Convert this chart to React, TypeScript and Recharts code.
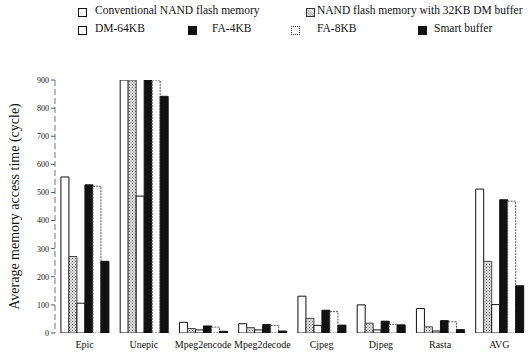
import { BarChart, Bar, XAxis, YAxis, Legend } from "recharts";

const categories = ["Epic", "Unepic", "Mpeg2encode", "Mpeg2decode", "Cjpeg", "Djpeg", "Rasta", "AVG"];
const conventional = [555, 900, 38, 33, 131, 100, 87, 512];
const dm32 = [272, 900, 16, 19, 52, 35, 22, 255];
const dm64 = [106, 487, 11, 11, 27, 11, 7, 101];
const fa4 = [527, 900, 25, 30, 81, 42, 44, 474];
const fa8 = [522, 900, 21, 27, 76, 31, 40, 469];
const smart = [255, 842, 6, 7, 28, 29, 12, 168];
const yTicks = [0, 100, 200, 300, 400, 500, 600, 700, 800, 900];

const data = categories.map((name, i) => ({
  name,
  conventional: conventional[i],
  dm32: dm32[i],
  dm64: dm64[i],
  fa4: fa4[i],
  fa8: fa8[i],
  smart: smart[i],
}));

const FONT = "'Liberation Serif', 'DejaVu Serif', serif";

function Swatch({ kind }: { kind: string }) {
  const base: React.CSSProperties = {
    position: "absolute",
    width: 9,
    height: 9,
    boxSizing: "border-box",
  };
  if (kind === "white") return <div style={{ ...base, border: "1.2px solid #111", background: "#fff" }} />;
  if (kind === "black") return <div style={{ ...base, background: "#111" }} />;
  if (kind === "dotted")
    return <div style={{ ...base, border: "1.2px dotted #333", background: "#fff" }} />;
  return (
    <div
      style={{
        ...base,
        border: "1px solid #333",
        background: "repeating-linear-gradient(45deg,#bbb 0 1px,#fff 1px 2px)",
      }}
    />
  );
}

const legendItems = [
  { kind: "white", label: "Conventional NAND flash memory", x: 78, y: 8, tx: 95 },
  { kind: "hatch", label: "NAND flash memory with 32KB DM buffer", x: 306, y: 8, tx: 317 },
  { kind: "white", label: "DM-64KB", x: 78, y: 26, tx: 95 },
  { kind: "black", label: "FA-4KB", x: 188, y: 26, tx: 212 },
  { kind: "dotted", label: "FA-8KB", x: 291, y: 26, tx: 317 },
  { kind: "black", label: "Smart buffer", x: 418, y: 26, tx: 434 },
];

function LegendBox() {
  return (
    <div style={{ position: "relative", width: 529, height: 40, fontFamily: FONT, fontSize: 11.5, color: "#111" }}>
      {legendItems.map((it) => (
        <div key={it.label}>
          <div style={{ position: "absolute", left: it.x, top: it.y }}>
            <Swatch kind={it.kind} />
          </div>
          <div style={{ position: "absolute", left: it.tx, top: it.y - 4, whiteSpace: "nowrap" }}>{it.label}</div>
        </div>
      ))}
    </div>
  );
}

export default function App() {
  return (
    <div style={{ position: "absolute", left: 0, top: 0, background: "#fff" }}>
      <BarChart
        width={529}
        height={356}
        data={data}
        margin={{ top: 40, right: 0, bottom: 0, left: 0 }}
        barCategoryGap="10%"
        barGap={0}
      >
        <defs>
          <pattern id="stipple" width="3" height="3" patternUnits="userSpaceOnUse">
            <rect width="3" height="3" fill="#e6e6e6" />
            <rect x="0" y="0" width="1" height="1" fill="#555" />
            <rect x="1.5" y="1.5" width="1" height="1" fill="#777" />
          </pattern>
        </defs>
        <XAxis
          dataKey="name"
          axisLine={false}
          tickLine={false}
          height={23}
          tick={{ fontFamily: FONT, fontSize: 10, fill: "#111" }}
          interval={0}
        />
        <YAxis
          domain={[0, 900]}
          ticks={yTicks}
          allowDataOverflow
          width={55}
          axisLine={{ stroke: "#777", strokeDasharray: "6 3" }}
          tickLine={{ stroke: "#555" }}
          tickSize={4}
          tick={{ fontFamily: FONT, fontSize: 8, fill: "#111" }}
          label={{
            value: "Average memory access time (cycle)",
            angle: -90,
            position: "insideLeft",
            offset: 14,
            style: { fontFamily: FONT, fontSize: 14, fill: "#111", textAnchor: "middle" },
          }}
        />
        <Legend verticalAlign="top" wrapperStyle={{ top: 0, left: 0 }} content={() => <LegendBox />} />
        <Bar dataKey="conventional" fill="#fff" stroke="#111" strokeWidth={1} isAnimationActive={false} />
        <Bar dataKey="dm32" fill="url(#stipple)" stroke="#444" strokeWidth={1} isAnimationActive={false} />
        <Bar dataKey="dm64" fill="#fff" stroke="#111" strokeWidth={1} isAnimationActive={false} />
        <Bar dataKey="fa4" fill="#111" stroke="#111" strokeWidth={1} isAnimationActive={false} />
        <Bar dataKey="fa8" fill="#fff" stroke="#555" strokeDasharray="2 1" strokeWidth={1} isAnimationActive={false} />
        <Bar dataKey="smart" fill="#111" stroke="#111" strokeWidth={1} isAnimationActive={false} />
      </BarChart>
    </div>
  );
}
